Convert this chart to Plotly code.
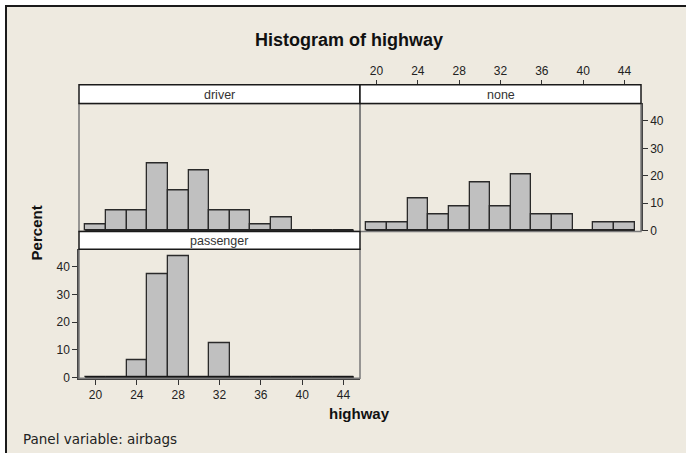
import plotly.graph_objects as go

# ---- data (percent of cars per 2-mpg bin) ----
bin_centers = [20, 22, 24, 26, 28, 30, 32, 34, 36, 38, 40, 42, 44]
driver_pct = [2.4, 7.3, 7.3, 24.4, 14.6, 22.0, 7.3, 7.3, 2.4, 4.9, 0, 0, 0]
none_pct = [2.9, 2.9, 11.8, 5.9, 8.8, 17.6, 8.8, 20.6, 5.9, 5.9, 0, 2.9, 2.9]
passenger_pct = [0, 0, 6.25, 37.5, 43.75, 0, 12.5, 0, 0, 0, 0, 0, 0]
x_ticks = [20, 24, 28, 32, 36, 40, 44]
y_ticks = [0, 10, 20, 30, 40]
panel_names = ["driver", "none", "passenger"]

W, H = 686, 460
def px(x):
    return x / W
def py(y):
    return 1 - y / H

BG = "#EEEAE0"
BAR = "#C0C0C0"
EDGE = "#2a2a2a"
FONT = "Liberation Sans, Arial, sans-serif"

fig = go.Figure()

series = [(driver_pct, "x", "y"), (none_pct, "x2", "y2"), (passenger_pct, "x3", "y3")]
for vals, xa, ya in series:
    fig.add_trace(go.Bar(x=bin_centers, y=vals, width=2, xaxis=xa, yaxis=ya,
                         marker=dict(color=BAR, line=dict(color=EDGE, width=1.3)),
                         showlegend=False, hoverinfo="x+y"))
    fig.add_trace(go.Scatter(x=[19, 45], y=[0, 0], mode="lines", xaxis=xa, yaxis=ya,
                             line=dict(color="#111111", width=2.2), showlegend=False,
                             hoverinfo="skip", cliponaxis=False))

xrange = [18.4, 45.6]
yrange = [-0.25, 46.35]
top_dom = [py(235), py(105)]
bot_dom = [py(384), py(253)]
left_dom = [px(79), px(360)]
right_dom = [px(360), px(641)]

tickfont = dict(family=FONT, size=12, color="#222222")
common_hidden = dict(showgrid=False, zeroline=False, showline=False, ticks="",
                     showticklabels=False, fixedrange=True)

fig.update_layout(
    width=W, height=H, autosize=False,
    margin=dict(l=0, r=0, t=0, b=0),
    paper_bgcolor="white", plot_bgcolor="white",
    bargap=0,
    xaxis=dict(domain=left_dom, anchor="y", range=xrange, **common_hidden),
    yaxis=dict(domain=top_dom, anchor="x", range=yrange, **common_hidden),
    xaxis2=dict(domain=right_dom, anchor="free", position=py(86), side="top",
                range=xrange, tickvals=x_ticks, ticks="outside", ticklen=5,
                tickcolor="#333333", tickwidth=1, tickfont=tickfont,
                showgrid=False, zeroline=False, showline=False),
    yaxis2=dict(domain=top_dom, anchor="x2", side="right", range=yrange,
                tickvals=y_ticks, ticks="outside", ticklen=5, tickcolor="#333333",
                tickwidth=1, tickfont=tickfont, showgrid=False, zeroline=False,
                showline=True, linecolor="#444444", linewidth=1.5),
    xaxis3=dict(domain=left_dom, anchor="y3", side="bottom", range=xrange,
                tickvals=x_ticks, ticks="outside", ticklen=5, tickcolor="#333333",
                tickwidth=1, tickfont=tickfont, showgrid=False, zeroline=False,
                showline=True, linecolor="#444444", linewidth=1.5),
    yaxis3=dict(domain=bot_dom, anchor="x3", side="left", range=yrange,
                tickvals=y_ticks, ticks="outside", ticklen=5, tickcolor="#333333",
                tickwidth=1, tickfont=tickfont, showgrid=False, zeroline=False,
                showline=True, linecolor="#444444", linewidth=1.5),
)

shapes = []
# beige page with framed top-left edge
shapes.append(dict(type="rect", xref="paper", yref="paper", x0=px(6), x1=1, y0=0, y1=py(6),
                   fillcolor=BG, line=dict(width=0), layer="below"))
shapes.append(dict(type="line", xref="paper", yref="paper", x0=px(5), x1=1, y0=py(6), y1=py(6),
                   line=dict(color="#1a1a1a", width=2)))
shapes.append(dict(type="line", xref="paper", yref="paper", x0=px(6), x1=px(6), y0=0, y1=py(6),
                   line=dict(color="#1a1a1a", width=2)))
# panel frames
for (x0, x1, y0, y1) in [(79, 360, 105, 235), (360, 641, 105, 235), (79, 360, 253, 384)]:
    shapes.append(dict(type="rect", xref="paper", yref="paper", x0=px(x0), x1=px(x1),
                       y0=py(y1), y1=py(y0), line=dict(color="#7a7a7a", width=1.5),
                       fillcolor="rgba(0,0,0,0)", layer="above"))
# strip headers
headers = [(79, 360, 86, 105), (360, 641, 86, 105), (79, 360, 235, 253)]
for (x0, x1, y0, y1) in headers:
    shapes.append(dict(type="rect", xref="paper", yref="paper", x0=px(x0), x1=px(x1),
                       y0=py(y1), y1=py(y0), line=dict(color="#1a1a1a", width=1.5),
                       fillcolor="white", layer="above"))
fig.update_layout(shapes=shapes)

ann = []
for name, (x0, x1, y0, y1) in zip(panel_names, headers):
    ann.append(dict(text=name, xref="paper", yref="paper", x=px((x0 + x1) / 2),
                    y=py((y0 + y1) / 2 + 0.5), xanchor="center", yanchor="middle",
                    showarrow=False, font=dict(family=FONT, size=12.5, color="#333333")))
ann.append(dict(text="<b>Histogram of highway</b>", xref="paper", yref="paper",
                x=px(349), y=py(41), xanchor="center", yanchor="middle", showarrow=False,
                font=dict(family=FONT, size=18, color="#111111")))
ann.append(dict(text="<b>Percent</b>", xref="paper", yref="paper", x=px(36), y=py(237),
                xanchor="center", yanchor="middle", showarrow=False, textangle=-90,
                font=dict(family=FONT, size=15, color="#111111")))
ann.append(dict(text="<b>highway</b>", xref="paper", yref="paper", x=px(360), y=py(420),
                xanchor="center", yanchor="middle", showarrow=False,
                font=dict(family=FONT, size=15, color="#111111")))
ann.append(dict(text="Panel variable: airbags", xref="paper", yref="paper", x=px(21), y=py(446),
                xanchor="left", yanchor="middle", showarrow=False,
                font=dict(family="DejaVu Sans, sans-serif", size=13.5, color="#222222")))
fig.update_layout(annotations=ann)

fig.write_html("out.html", config={"displayModeBar": False},
               post_script="document.body.style.margin='0';document.body.style.overflow='hidden';")
